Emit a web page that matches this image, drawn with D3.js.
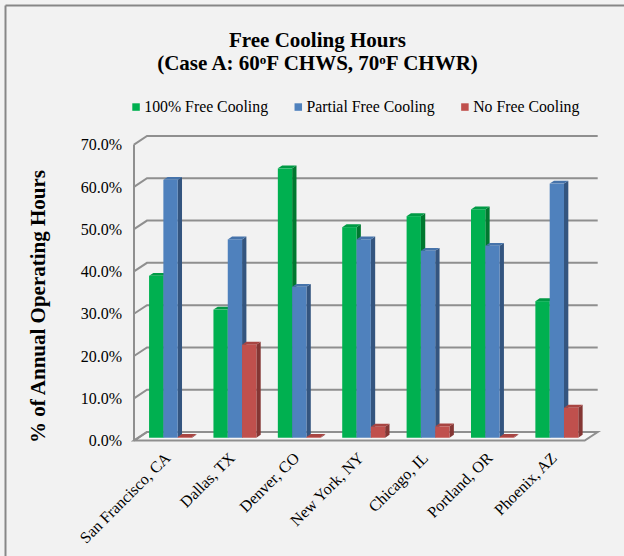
<!DOCTYPE html>
<html>
<head>
<meta charset="utf-8">
<script src="https://cdn.jsdelivr.net/npm/d3@7"></script>
<style>
  html, body { margin: 0; padding: 0; background: #f2f2f2; }
  svg { display: block; }
  text { font-family: "Liberation Serif", "Times New Roman", serif; fill: #000; }
</style>
</head>
<body>
<svg id="chart" width="624" height="556"></svg>
<script>
// ---- data ----
const cities = ["San Francisco, CA", "Dallas, TX", "Denver, CO", "New York, NY", "Chicago, IL", "Portland, OR", "Phoenix, AZ"];
const seriesNames = ["100% Free Cooling", "Partial Free Cooling", "No Free Cooling"];
const fullFree    = [38.3, 30.3, 63.7, 49.8, 52.4, 54.0, 32.3];
const partialFree = [61.0, 46.9, 35.7, 46.9, 44.2, 45.4, 60.1];
const noFree      = [0.2, 22.0, 0.2, 2.6, 2.7, 0.2, 7.1];
const yTicks = [0, 10, 20, 30, 40, 50, 60, 70];

const seriesValues = [fullFree, partialFree, noFree];
const palette = [
  { front: "#00b050", side: "#00782f", top: "#009a45" },
  { front: "#4f81bd", side: "#34557f", top: "#4673aa" },
  { front: "#c0504d", side: "#843634", top: "#a84542" }
];

const svg = d3.select("#chart");

// outer frame (top and left edges)
svg.append("line").attr("x1", 5.5).attr("y1", 5.5).attr("x2", 624).attr("y2", 5.5)
  .attr("stroke", "#878787").attr("stroke-width", 2);
svg.append("line").attr("x1", 5.5).attr("y1", 5.5).attr("x2", 5.5).attr("y2", 556)
  .attr("stroke", "#878787").attr("stroke-width", 2);

// ---- 3D geometry: back wall plane plus an oblique depth vector ----
const backLeft = 147, backRight = 597.7;
const depthDX = -13, depthDY = 8.6;      // offset of the front edge relative to the back wall
const barFrontT = 2 / 3, barBackT = 1 / 3; // bars sit in the middle third of the depth

const x = d3.scaleBand().domain(cities).range([0, backRight - backLeft])
  .paddingInner(0.3333).paddingOuter(0.1667);
const xs = d3.scaleBand().domain(d3.range(seriesNames.length)).range([0, x.bandwidth()]);
const y = d3.scaleLinear().domain([0, 70]).range([432, 136]);

const proj = (px, py, t) => [backLeft + px + depthDX * t, py + depthDY * t];

const gridColor = "#8f8f8f";

// floor
const floorPts = [proj(0, y(0), 0), proj(backRight - backLeft, y(0), 0),
                  proj(backRight - backLeft, y(0), 1), proj(0, y(0), 1)];
svg.append("polygon").attr("points", floorPts.map(p => p.join(",")).join(" "))
  .attr("fill", "#f7f7f7").attr("stroke", gridColor).attr("stroke-width", 2)
  .attr("stroke-linejoin", "miter");

// gridlines on back wall + side wall diagonals
const grid = svg.append("g").attr("fill", "none").attr("stroke", gridColor).attr("stroke-width", 2);
yTicks.forEach(v => {
  const a = proj(0, y(v), 1), b = proj(0, y(v), 0), c = proj(backRight - backLeft, y(v), 0);
  grid.append("polyline").attr("points", [a, b, c].map(p => p.join(",")).join(" "));
});
// left wall front edge
{
  const top = proj(0, y(70), 1), bot = proj(0, y(0), 1);
  grid.append("line").attr("x1", top[0]).attr("y1", top[1]).attr("x2", bot[0]).attr("y2", bot[1]);
}

// y axis labels, placed on the front edge of the side wall
const yAxis = d3.axisLeft(y).tickValues(yTicks).tickSize(0).tickPadding(0)
  .tickFormat(d => d3.format(".1f")(d) + "%");
const yAxisG = svg.append("g")
  .attr("transform", `translate(${proj(0, 0, 1)[0] - 12},${depthDY})`)
  .call(yAxis);
yAxisG.select(".domain").remove();
yAxisG.selectAll("text")
  .style("font-family", '"Liberation Serif", "Times New Roman", serif')
  .style("font-size", "16px").attr("fill", "#000");

// ---- bars ----
const bars = svg.append("g");
cities.forEach((city, ci) => {
  seriesValues.forEach((vals, si) => {
    const v = vals[ci];
    const x0 = x(city) + xs(si), w = xs.bandwidth();
    const [fx, fyTop] = proj(x0, y(v), barFrontT);
    const [, fyBase] = proj(x0, y(0), barFrontT);
    const [bx, byTop] = proj(x0, y(v), barBackT);
    const [, byBase] = proj(x0, y(0), barBackT);
    const c = palette[si];
    // side face
    bars.append("polygon")
      .attr("points", [[fx + w, fyTop], [bx + w, byTop], [bx + w, byBase], [fx + w, fyBase]].map(p => p.join(",")).join(" "))
      .attr("fill", c.side);
    // top face
    bars.append("polygon")
      .attr("points", [[fx, fyTop], [bx, byTop], [bx + w, byTop], [fx + w, fyTop]].map(p => p.join(",")).join(" "))
      .attr("fill", c.top);
    // front face
    bars.append("rect")
      .attr("x", fx).attr("y", fyTop).attr("width", w).attr("height", fyBase - fyTop)
      .attr("fill", c.front);
  });
});

// x category labels, rotated
const xl = svg.append("g");
cities.forEach(city => {
  const [cx] = proj(x(city) + x.bandwidth() / 2, y(0), barFrontT);
  xl.append("text")
    .attr("transform", `translate(${cx + 1},${459}) rotate(-45)`)
    .attr("text-anchor", "end")
    .style("font-size", "16px")
    .text(city);
});

// title
const title = svg.append("text").attr("x", 317.5).attr("text-anchor", "middle")
  .style("font-size", "21px").style("font-weight", "bold");
title.append("tspan").attr("x", 317.5).attr("y", 47).text("Free Cooling Hours");
const t2 = title.append("tspan").attr("x", 317.5).attr("y", 70);
t2.append("tspan").text("(Case A: 60");
t2.append("tspan").attr("dy", -6).style("font-size", "13px").text("o");
t2.append("tspan").attr("dy", 6).text("F CHWS, 70");
t2.append("tspan").attr("dy", -6).style("font-size", "13px").text("o");
t2.append("tspan").attr("dy", 6).text("F CHWR)");

// y axis title
svg.append("text")
  .attr("transform", "translate(45,306.5) rotate(-90)")
  .attr("text-anchor", "middle")
  .style("font-size", "21px").style("font-weight", "bold")
  .text("% of Annual Operating Hours");

// legend
const legend = svg.append("g");
let lx = 132.3;
seriesNames.forEach((name, i) => {
  legend.append("rect").attr("x", lx).attr("y", 103.3).attr("width", 7.5).attr("height", 7.5)
    .attr("fill", palette[i].front);
  const t = legend.append("text").attr("x", lx + 12).attr("y", 111.5)
    .style("font-size", "15.8px").text(name);
  lx = lx + 12 + t.node().getComputedTextLength() + 26.5;
});
</script>
</body>
</html>
